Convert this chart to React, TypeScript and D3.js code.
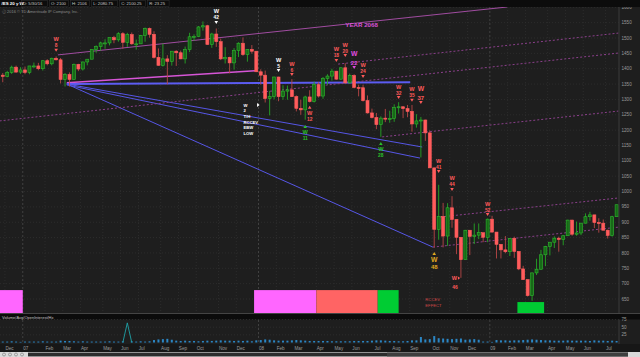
import React from 'react';
import * as d3 from 'd3';

// Weekly bars, week 0 = Monday Nov 27 2006
const START = Date.UTC(2006, 10, 27);
const MONTHS = ['Jan', 'Feb', 'Mar', 'Apr', 'May', 'Jun', 'Jul', 'Aug', 'Sep', 'Oct', 'Nov', 'Dec'];

// [open, high, low, close]
const candles: [number, number, number, number][] = [
  [1379, 1386, 1356, 1375], [1375, 1393, 1372, 1388], [1388, 1410, 1383, 1405], [1405, 1410, 1387, 1389],
  [1389, 1405, 1383, 1396], [1396, 1407, 1382, 1388], [1388, 1409, 1382, 1409], [1409, 1420, 1403, 1409],
  [1409, 1419, 1395, 1400], [1400, 1427, 1394, 1426], [1426, 1431, 1411, 1416], [1416, 1436, 1411, 1434],
  [1434, 1440, 1427, 1429], [1429, 1435, 1352, 1365], [1365, 1386, 1342, 1381], [1381, 1388, 1342, 1365],
  [1365, 1417, 1365, 1414], [1414, 1416, 1392, 1399], [1399, 1423, 1394, 1422], [1422, 1431, 1411, 1431],
  [1431, 1463, 1431, 1462], [1462, 1476, 1452, 1472], [1472, 1488, 1459, 1484], [1484, 1496, 1465, 1484],
  [1484, 1501, 1476, 1501], [1501, 1507, 1483, 1494], [1494, 1519, 1488, 1514], [1514, 1519, 1465, 1486],
  [1486, 1517, 1471, 1511], [1511, 1518, 1478, 1481], [1481, 1495, 1462, 1481], [1481, 1510, 1481, 1508],
  [1508, 1534, 1488, 1531], [1531, 1534, 1501, 1512], [1512, 1522, 1433, 1437], [1437, 1466, 1410, 1411],
  [1411, 1482, 1407, 1432], [1432, 1444, 1349, 1424], [1424, 1457, 1410, 1457], [1457, 1460, 1409, 1452],
  [1452, 1459, 1431, 1432], [1432, 1472, 1417, 1462], [1462, 1517, 1454, 1504], [1504, 1512, 1491, 1505],
  [1505, 1539, 1504, 1536], [1536, 1554, 1524, 1540], [1540, 1543, 1478, 1479], [1479, 1517, 1468, 1513],
  [1513, 1531, 1471, 1488], [1488, 1498, 1428, 1432], [1432, 1470, 1417, 1437], [1437, 1439, 1385, 1419],
  [1419, 1467, 1397, 1459], [1459, 1486, 1438, 1483], [1483, 1502, 1442, 1446], [1446, 1463, 1423, 1463],
  [1463, 1477, 1449, 1457], [1457, 1457, 1389, 1390], [1390, 1398, 1348, 1379], [1379, 1394, 1290, 1303],
  [1303, 1328, 1248, 1309], [1309, 1374, 1300, 1373], [1373, 1374, 1294, 1309], [1309, 1346, 1299, 1327],
  [1327, 1345, 1299, 1331], [1331, 1366, 1308, 1309], [1309, 1313, 1261, 1271], [1271, 1299, 1250, 1266],
  [1266, 1312, 1234, 1308], [1308, 1330, 1290, 1293], [1293, 1358, 1290, 1348], [1348, 1356, 1306, 1311],
  [1311, 1373, 1302, 1368], [1368, 1382, 1348, 1376], [1376, 1400, 1361, 1392], [1392, 1393, 1364, 1366],
  [1366, 1404, 1364, 1403], [1403, 1418, 1351, 1354], [1354, 1384, 1351, 1378], [1378, 1382, 1336, 1339],
  [1339, 1348, 1310, 1338], [1338, 1348, 1293, 1296], [1296, 1313, 1254, 1256], [1256, 1270, 1238, 1241],
  [1241, 1256, 1203, 1218], [1218, 1245, 1178, 1239], [1239, 1269, 1226, 1236], [1236, 1263, 1224, 1238],
  [1238, 1284, 1227, 1274], [1274, 1291, 1254, 1276], [1276, 1278, 1239, 1270], [1270, 1282, 1242, 1261],
  [1261, 1282, 1195, 1220], [1220, 1252, 1208, 1230], [1230, 1243, 1111, 1233], [1233, 1234, 1165, 1191],
  [1191, 1199, 1077, 1077], [1077, 1078, 817, 877], [877, 1022, 843, 919], [919, 963, 818, 855],
  [855, 962, 823, 947], [947, 985, 882, 909], [909, 910, 796, 851], [851, 852, 719, 778],
  [778, 875, 778, 874], [874, 874, 793, 854], [854, 896, 829, 858], [858, 896, 845, 866],
  [866, 865, 835, 851], [851, 912, 835, 910], [910, 921, 866, 868], [868, 868, 782, 828],
  [828, 829, 782, 810], [810, 855, 799, 804], [804, 848, 790, 847], [847, 853, 784, 805],
  [805, 805, 744, 748], [748, 758, 713, 713], [713, 714, 658, 661], [661, 736, 644, 735],
  [735, 781, 728, 747], [747, 810, 745, 794], [794, 823, 757, 821], [821, 835, 792, 835],
  [835, 854, 816, 848], [848, 853, 804, 844], [844, 858, 825, 856], [856, 908, 856, 907],
  [907, 908, 856, 861], [861, 902, 856, 865], [865, 898, 858, 897], [897, 929, 896, 918],
  [918, 934, 905, 924], [924, 924, 881, 899], [899, 913, 866, 897], [897, 909, 874, 874],
  [874, 876, 847, 857], [857, 921, 853, 918], [918, 957, 918, 957],
];

const volumes: number[] = [
  3, 3, 4, 3, 2, 3, 3, 3, 3, 4, 3, 3, 3, 6, 5, 5, 4, 3, 4, 3, 3, 3, 3, 3, 4, 3, 3, 4,
  64, 4, 3, 4, 3, 4, 8, 10, 11, 12, 9, 6, 5, 6, 5, 5, 4, 5, 6, 5, 6, 7, 6, 6, 5, 6, 5, 6, 4,
  7, 8, 10, 9, 7, 6, 6, 6, 7, 8, 7, 6, 5, 5, 5, 5, 5, 4, 4, 4, 4, 4, 5, 5, 5, 5, 6, 7, 7, 6, 5,
  5, 4, 4, 5, 7, 7, 18, 10, 11, 21, 14, 13, 12, 11, 12, 13, 9, 10, 11, 9, 3, 3, 2,
  8, 7, 7, 6, 7, 7, 8, 9, 10, 9, 8, 7, 7, 6, 6, 6, 7, 6, 6, 6, 6, 5, 7, 6, 6, 5, 6, 5,
];

const priceTicks = [650, 700, 750, 800, 850, 900, 950, 1000, 1050, 1100, 1150, 1200, 1250, 1300, 1350, 1400, 1450, 1500, 1550, 1600];
const volTicks = [25, 50, 75];

// drawn trend lines: [bar index, price] -> [bar index, price]
const trendLines = [
  { i1: 12.4, p1: 1445, i2: 113.4, p2: 1601, color: '#a04ca0', w: 1, dash: '' },
  { i1: 14.4, p1: 1354, i2: 56.7, p2: 1393, color: '#d655d6', w: 1.5, dash: '' },
  { i1: 14.4, p1: 1350, i2: 91.6, p2: 1356, color: '#5c5cf2', w: 2, dash: '' },
  { i1: 14.4, p1: 1350, i2: 94.3, p2: 1145, color: '#5656e6', w: 1, dash: '' },
  { i1: 14.4, p1: 1347, i2: 93.8, p2: 1109, color: '#5656e6', w: 1, dash: '' },
  { i1: 14.4, p1: 1350, i2: 96.7, p2: 819, color: '#5656e6', w: 1, dash: '' },
  { i1: 75.4, p1: 1415, i2: 138.4, p2: 1516, color: '#8a3f8a', w: 1, dash: '2,2' },
  { i1: -0.7, p1: 1230, i2: 138.4, p2: 1451, color: '#8a3f8a', w: 1, dash: '2,2' },
  { i1: 85.3, p1: 1178, i2: 138.4, p2: 1262, color: '#8a3f8a', w: 1, dash: '2,2' },
  { i1: 98.3, p1: 917, i2: 138.4, p2: 979, color: '#8a3f8a', w: 1, dash: '2,2' },
  { i1: 96.7, p1: 819, i2: 138.4, p2: 884, color: '#8a3f8a', w: 1, dash: '2,2' },
];

// week markers: bar index, price of the arrow tip, label, colour, side
const markers = [
  { i: 12, p: 1455, num: '8', color: '#ff5a5a', dir: 'down', big: false },
  { i: 48, p: 1546, num: '42', color: '#ffffff', dir: 'down', big: false },
  { i: 62, p: 1389, num: '5', color: '#ffffff', dir: 'down', big: false },
  { i: 65, p: 1376, num: '6', color: '#ff5a5a', dir: 'down', big: false },
  { i: 69, p: 1279, num: '12', color: '#ff5a5a', dir: 'up', big: false },
  { i: 68, p: 1217, num: '11', color: '#2ac02a', dir: 'up', big: false },
  { i: 75, p: 1422, num: '18', color: '#ff5a5a', dir: 'down', big: false },
  { i: 77, p: 1438, num: '20', color: '#ff5a5a', dir: 'down', big: false },
  { i: 79, p: 1399, num: '22', color: '#e04ce0', dir: 'down', big: true },
  { i: 81, p: 1370, num: '24', color: '#ff5a5a', dir: 'down', big: false },
  { i: 89, p: 1301, num: '32', color: '#ff5a5a', dir: 'down', big: false },
  { i: 92, p: 1292, num: '35', color: '#ff5a5a', dir: 'down', big: false },
  { i: 94, p: 1285, num: '37', color: '#ff5a5a', dir: 'down', big: true },
  { i: 85, p: 1161, num: '28', color: '#2ac02a', dir: 'up', big: false },
  { i: 98, p: 1060, num: '41', color: '#ff5a5a', dir: 'down', big: false },
  { i: 101, p: 1002, num: '44', color: '#ff5a5a', dir: 'down', big: false },
  { i: 109, p: 920, num: '52', color: '#ff5a5a', dir: 'down', big: false },
  { i: 97, p: 803, num: '48', color: '#e0a820', dir: 'up', big: true },
];

const noteLines = ['W', '2', 'T/H', 'RCCEV', 'EBW', 'LOW'];

// coloured study blocks along the bottom of the price pane
const blocks = [
  { i0: -0.7, i1: 4.5, top: 679, color: '#ff66ff' },
  { i0: 56.5, i1: 70.5, top: 679, color: '#ff66ff' },
  { i0: 70.5, i1: 84.3, top: 679, color: '#ff6464' },
  { i0: 84.3, i1: 89.0, top: 679, color: '#00cc33' },
  { i0: 115.7, i1: 121.7, top: 640, color: '#00cc33' },
];

const headerItems = ['D: 5/30/16', 'O: 2100', 'H: 2106', 'L: 2080.75', 'C: 2100.25', 'R: 23.25'];

const FONT = '"Liberation Sans", Arial, sans-serif';

export default function App() {
  const x = d3.scaleLinear().domain([0, 138]).range([2.76, 616.6]);
  const step = x(1) - x(0);
  const y = d3.scaleLinear().domain([650, 1600]).range([299, 7.3]);
  const yv = d3.scaleLinear().domain([0, 75]).range([342.5, 319.5]);

  const PANE_TOP = 7;
  const PANE_BOT = 313;
  const PLOT_R = 619;

  const dates = candles.map((_, i) => new Date(START + i * 7 * 86400000));
  const monthMarks: { i: number; text: string; year: boolean }[] = [];
  dates.forEach((d, i) => {
    if (i > 0 && d.getUTCMonth() !== dates[i - 1].getUTCMonth()) {
      const m = d.getUTCMonth();
      monthMarks.push({ i, text: m === 0 ? String(d.getUTCFullYear() % 100).padStart(2, '0') : MONTHS[m], year: m === 0 });
    }
  });

  const spikeIdx = volumes.map((v, i) => (v > 40 ? i : -1)).filter((i) => i >= 0);
  const volLine = d3.line<[number, number]>().x((d) => x(d[0])).y((d) => yv(d[1]));

  const tri = (cx: number, ty: number, dir: string, s = 1.8) =>
    dir === 'down'
      ? `M${cx - s},${ty - 3} L${cx + s},${ty - 3} L${cx},${ty} Z`
      : `M${cx - s},${ty + 3} L${cx + s},${ty + 3} L${cx},${ty} Z`;

  let hx = 23;
  const headerPos = headerItems.map((t) => {
    const pos = hx;
    hx += t.length * 2.3 + 5;
    return pos;
  });

  return (
    <svg width={640} height={357} style={{ position: 'absolute', left: 0, top: 0, display: 'block' }} fontFamily={FONT}>
      <defs>
        <clipPath id="pane">
          <rect x={0} y={PANE_TOP} width={PLOT_R} height={PANE_BOT - PANE_TOP} />
        </clipPath>
      </defs>
      <rect x={0} y={0} width={640} height={357} fill="#1e1e1e" />

      {/* horizontal price grid */}
      {priceTicks.map((t) => (
        <line key={'hg' + t} x1={0} x2={PLOT_R} y1={y(t)} y2={y(t)} stroke="#303030" strokeWidth={0.8} strokeDasharray="1,2" />
      ))}
      {/* month grid */}
      {monthMarks.map((m) => (
        <line key={'vg' + m.i} x1={x(m.i) - step / 2} x2={x(m.i) - step / 2} y1={PANE_TOP} y2={PANE_BOT}
          stroke={m.year ? '#4a4a4a' : '#303030'} strokeWidth={0.8} strokeDasharray={m.year ? '2,2' : '1,2'} />
      ))}

      <g clipPath="url(#pane)">
        {blocks.map((b, k) => (
          <rect key={'b' + k} x={Math.max(0, x(b.i0))} y={y(b.top)} width={x(b.i1) - Math.max(0, x(b.i0))} height={PANE_BOT - y(b.top)} fill={b.color} />
        ))}

        {trendLines.map((l, k) => (
          <line key={'tl' + k} x1={x(l.i1)} y1={y(l.p1)} x2={x(l.i2)} y2={y(l.p2)} stroke={l.color} strokeWidth={l.w}
            strokeDasharray={l.dash || undefined} />
        ))}

        {candles.map(([o, h, l, c], i) => {
          const up = c >= o;
          const cx = x(i);
          const top = y(Math.max(o, c));
          const bh = Math.max(1, y(Math.min(o, c)) - top);
          return (
            <g key={'c' + i}>
              <line x1={cx} x2={cx} y1={y(h)} y2={y(l)} stroke={up ? '#25a525' : '#b84646'} strokeWidth={0.9} />
              <rect x={cx - 1.5} y={top} width={3} height={bh} fill={up ? '#176a17' : '#ff5c5c'}
                stroke={up ? '#2fb82f' : '#ff5c5c'} strokeWidth={0.6} />
            </g>
          );
        })}

        {markers.map((m, k) => {
          const cx = x(m.i);
          const ty = y(m.p);
          const fsW = m.big ? 6.8 : 5.6;
          const fsN = m.big ? 6 : 4.9;
          const wy = m.dir === 'down' ? ty - (m.big ? 13 : 10.5) : ty + (m.big ? 10 : 8.8);
          const ny = m.dir === 'down' ? ty - 4.5 : ty + (m.big ? 17 : 15);
          return (
            <g key={'m' + k} fill={m.color} fontWeight="bold" textAnchor="middle">
              <text x={cx} y={wy} fontSize={fsW}>W</text>
              <text x={cx} y={ny} fontSize={fsN}>{m.num}</text>
              <path d={tri(cx, ty, m.dir)} />
            </g>
          );
        })}

        {/* W 46 pointer */}
        <g fill="#ff5a5a" fontWeight="bold">
          <text x={x(103) - 4} y={y(718) + 2} fontSize={5.6} textAnchor="end">W</text>
          <path d={`M${x(103) - 3},${y(718) - 1.6} L${x(103) - 3},${y(718) + 1.6} L${x(103) - 0.8},${y(718)} Z`} />
          <text x={x(103) - 6} y={y(718) + 11} fontSize={4.9} textAnchor="middle">46</text>
        </g>

        {/* note block */}
        <g fill="#ffffff" fontWeight="bold" fontSize={4.2}>
          {noteLines.map((t, k) => (
            <text key={'n' + k} x={x(54) + 0.5} y={y(1282) + 1.8 + k * 5.6}>{t}</text>
          ))}
          <path d={`M${x(57.4) - 1},${y(1282) - 2} L${x(57.4) - 1},${y(1282) + 2} L${x(57.4) + 1.5},${y(1282)} Z`} />
        </g>

        <text x={x(77)} y={y(1536)} fill="#d652d6" fontSize={6.2} fontWeight="bold">YEAR 2068</text>
        <text x={x(95)} y={y(643)} fill="#d04848" fontSize={4.2}>RCCEV</text>
        <text x={x(95)} y={y(643) + 6} fill="#d04848" fontSize={4.2}>EFFECT</text>
      </g>

      {/* price axis */}
      <line x1={PLOT_R} x2={PLOT_R} y1={PANE_TOP} y2={352} stroke="#3a3a3a" strokeWidth={1} />
      {priceTicks.map((t) => (
        <text key={'pt' + t} x={621.5} y={y(t) + 1.6} fontSize={4.6} fill="#9a9a9a">{t}</text>
      ))}

      {/* pane separator + volume header */}
      <rect x={0} y={PANE_BOT} width={640} height={1} fill="#444" />
      <rect x={0} y={PANE_BOT + 1} width={640} height={5.5} fill="#0b0b0b" />
      <text x={2} y={318.8} fontSize={4} fill="#c4c4c4">Volume/Avg/OpenInterest/Hx</text>

      {/* volume pane */}
      {volTicks.map((t) => (
        <g key={'vt' + t}>
          <line x1={0} x2={PLOT_R} y1={yv(t)} y2={yv(t)} stroke="#303030" strokeWidth={0.8} strokeDasharray="1,2" />
          <text x={621.5} y={yv(t) + 1.6} fontSize={4.6} fill="#9a9a9a">{t}</text>
        </g>
      ))}
      {monthMarks.filter((m) => m.year).map((m) => (
        <line key={'vy' + m.i} x1={x(m.i) - step / 2} x2={x(m.i) - step / 2} y1={320} y2={344} stroke="#4a4a4a" strokeWidth={0.8} strokeDasharray="2,2" />
      ))}
      {volumes.map((v, i) =>
        v > 40 ? null : (
          <rect key={'v' + i} x={x(i) - 1} y={yv(v)} width={2} height={yv(0) - yv(v)} fill="#2b86c4" />
        )
      )}
      {spikeIdx.map((i) => (
        <path key={'sp' + i} d={volLine([[i - 1, 0], [i, volumes[i]], [i + 1, 0]]) || ''} fill="none" stroke="#1fa3a8" strokeWidth={0.9} />
      ))}

      {/* time axis */}
      <rect x={0} y={344} width={640} height={8} fill="#171717" />
      {monthMarks.map((m) => (
        <text key={'ml' + m.i} x={x(m.i) - step / 2 + 0.4} y={349.8} fontSize={4.6} fill="#9a9a9a">{m.text}</text>
      ))}

      {/* scrollbar */}
      <rect x={0} y={352} width={640} height={5} fill="#d9d9d9" />
      <rect x={28} y={352.6} width={600} height={3.8} fill="#2c2c2c" />
      <rect x={387} y={352.6} width={241} height={3.8} fill="#3e3e3e" />
      {[4, 10, 16, 22].map((cx) => (
        <circle key={'ic' + cx} cx={cx} cy={354.5} r={1.5} fill="none" stroke="#777" strokeWidth={0.6} />
      ))}

      {/* header */}
      <rect x={0} y={0} width={640} height={7} fill="#0c0c0c" />
      <text x={1.5} y={5} fontSize={4.4} fill="#ffffff" fontWeight="bold">/ES 20 y W</text>
      {headerItems.map((t, k) => (
        <g key={'h' + k}>
          <rect x={headerPos[k] - 1.5} y={0.5} width={t.length * 2.3 + 3} height={6} fill="none" stroke="#333" strokeWidth={0.5} />
          <text x={headerPos[k]} y={5} fontSize={4.2} fill="#c8c8c8">{t}</text>
        </g>
      ))}
      <text x={2} y={12.5} fontSize={4} fill="#8a8a8a">ⓘ 2016 © TD Ameritrade IP Company, Inc.</text>
    </svg>
  );
}
